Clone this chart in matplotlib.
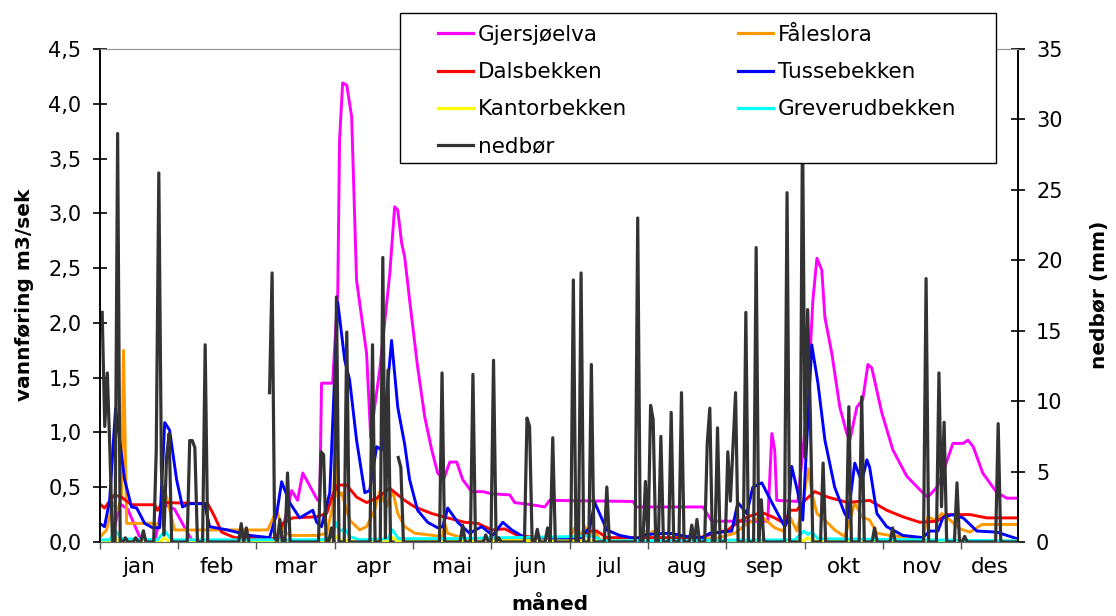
import numpy as np
import matplotlib
matplotlib.use("Agg")
from matplotlib import pyplot as plt
from matplotlib.patches import Rectangle
from matplotlib.lines import Line2D

plt.rcParams['font.family'] = ['DejaVu Sans']

# ---------------------------------------------------------------- data
months = ['jan', 'feb', 'mar', 'apr', 'mai', 'jun', 'jul', 'aug', 'sep', 'okt', 'nov', 'des']
month_len = 30.42
x_end = 356.7

# Gjersjøelva (m3/s)
gj_day = [0, 4.7, 7.8, 10.9, 15.5, 19.4, 21.4, 24.5, 29.1, 35.7, 38.9, 69.9, 74.6, 76.9, 78.9,
          84.7, 85.5, 86.2, 90.5, 92.5, 93.2, 94.4, 96.0, 97.9, 99.8, 103.7, 105.3, 106.8, 108.8,
          112.7, 114.6, 115.8, 117.3, 118.5, 120.4, 123.5, 126.3, 129.0, 131.3, 133.6, 136.0,
          138.7, 141.0, 144.5, 148.8, 152.3, 159.3, 161.2, 167.8, 172.9, 174.8, 207.1, 208.6,
          234.3, 237.8, 259.5, 261.1, 262.2, 263.0, 271.2, 275.1, 277.0, 278.6, 280.5, 281.7,
          284.4, 287.5, 290.2, 291.4, 294.1, 296.4, 298.4, 299.9, 303.8, 308.1, 313.5, 319.7,
          321.7, 325.2, 327.5, 331.4, 335.4, 337.3, 339.3, 343.0, 348.5, 352.4, 356.7]
gj_val = [0.0, 0.0, 0.35, 0.30, 0.05, 0.0, 0.0, 0.35, 0.30, 0.02, 0.0, 0.0, 0.47, 0.38, 0.63,
          0.38, 0.38, 1.45, 1.45, 2.27, 3.67, 4.19, 4.17, 3.88, 2.39, 1.72, 0.95, 1.23, 1.57,
          2.45, 3.06, 3.03, 2.73, 2.60, 2.21, 1.60, 1.14, 0.84, 0.63, 0.57, 0.73,
          0.73, 0.57, 0.46, 0.46, 0.44, 0.43, 0.36, 0.34, 0.32, 0.38, 0.37, 0.32,
          0.32, 0.19, 0.19, 0.99, 0.84, 0.38, 0.37, 1.30, 2.20, 2.59, 2.48, 2.05,
          1.72, 1.23, 0.99, 0.93, 1.23, 1.30, 1.62, 1.59, 1.18, 0.84, 0.60, 0.45,
          0.41, 0.50, 0.63, 0.90, 0.90, 0.93, 0.87, 0.63, 0.45, 0.40, 0.40]

# Fåleslora
fa_day = [0, 2.7, 5.1, 7.0, 8.5, 9.3, 10.5, 21.4, 23.3, 24.9, 26.4, 29.1, 65.3, 68.8, 71.1, 73.8,
          84.7, 88.2, 90.5, 91.7, 92.5, 94.0, 97.1, 101.0, 103.7, 106.8, 108.8, 111.5, 113.8,
          115.8, 118.5, 122.4, 133.3, 134.0, 135.2, 141.8, 178.7, 182.6, 184.5, 186.5, 188.5,
          190.4, 191.5, 194.3, 209.8, 211.7, 213.7, 214.8, 217.6, 238.9, 246.7, 251.7, 257.2,
          262.2, 265.3, 268.1, 270.8, 273.1, 275.1, 276.6, 278.6, 281.7, 285.5, 289.4, 292.2,
          293.3, 296.0, 299.1, 301.9, 306.9, 319.7, 321.7, 324.4, 327.1, 330.3, 334.2, 338.1,
          342.7, 356.7]
fa_val = [0.04, 0.11, 0.36, 0.29, 0.40, 1.75, 0.17, 0.17, 0.14, 0.50, 0.38, 0.11, 0.11, 0.29, 0.11, 0.06,
          0.06, 0.08, 0.32, 0.79, 0.41, 0.45, 0.20, 0.11, 0.14, 0.29, 0.46, 0.32, 0.47,
          0.26, 0.14, 0.08, 0.05, 0.18, 0.08, 0.03, 0.02, 0.03, 0.13, 0.05, 0.14,
          0.05, 0.13, 0.02, 0.02, 0.10, 0.05, 0.10, 0.02, 0.03, 0.08, 0.17, 0.23,
          0.13, 0.10, 0.23, 0.10, 0.32, 0.67, 0.45, 0.26, 0.20, 0.11, 0.05, 0.26,
          0.36, 0.23, 0.20, 0.08, 0.06, 0.03, 0.23, 0.20, 0.26, 0.20, 0.12, 0.09,
          0.16, 0.16]

# Dalsbekken
da_day = [0, 1.9, 5.8, 8.5, 12.4, 21.4, 22.5, 24.5, 42.0, 44.7, 47.4, 52.4, 68.4, 71.1, 75.0,
          84.3, 88.2, 90.5, 92.5, 96.0, 99.8, 103.7, 107.6, 112.7, 118.5, 122.4, 129.0, 135.2,
          141.8, 146.9, 152.3, 157.3, 162.4, 170.2, 186.5, 190.4, 193.1, 197.0, 233.1, 238.9,
          244.0, 247.9, 251.7, 257.2, 262.2, 266.1, 268.1, 270.8, 273.9, 277.8, 282.8, 290.6,
          294.5, 299.1, 305.7, 312.0, 318.6, 325.2, 329.1, 338.1, 344.6, 356.7]
da_val = [0.35, 0.31, 0.43, 0.41, 0.34, 0.34, 0.29, 0.36, 0.35, 0.23, 0.09, 0.04, 0.03, 0.17, 0.22,
          0.23, 0.26, 0.43, 0.52, 0.52, 0.41, 0.36, 0.40, 0.49, 0.38, 0.32, 0.26, 0.22,
          0.18, 0.17, 0.11, 0.12, 0.06, 0.04, 0.03, 0.10, 0.10, 0.04, 0.04, 0.08,
          0.11, 0.18, 0.23, 0.27, 0.22, 0.17, 0.29, 0.29, 0.38, 0.46, 0.41, 0.36,
          0.37, 0.38, 0.29, 0.23, 0.18, 0.19, 0.25, 0.25, 0.22, 0.22]

# Tussebekken
tu_day = [0, 1.9, 3.9, 6.2, 7.8, 9.7, 12.4, 14.4, 17.5, 20.6, 23.3, 25.3, 27.2, 29.9, 32.2, 35.0,
          40.8, 42.7, 49.7, 58.3, 66.0, 68.8, 70.7, 73.8, 77.7, 82.8, 84.3, 86.2, 89.4, 92.5,
          95.2, 97.1, 99.8, 103.0, 104.9, 107.6, 109.6, 113.4, 115.8, 118.5, 120.4, 123.5,
          127.4, 131.3, 133.3, 135.2, 139.1, 143.7, 148.4, 152.7, 156.6, 160.1, 165.1, 178.7,
          186.5, 190.4, 192.3, 197.0, 202.0, 208.6, 212.5, 221.4, 228.1, 234.3, 237.0, 245.5,
          247.9, 251.4, 253.7, 257.2, 261.1, 266.1, 267.3, 268.8, 271.2, 273.1, 276.6, 279.0,
          281.7, 285.5, 289.4, 290.6, 293.3, 296.0, 298.0, 299.1, 301.9, 305.7, 312.0, 319.7,
          322.5, 325.6, 327.5, 331.0, 335.4, 340.7, 348.5, 356.3]
tu_val = [0.17, 0.14, 0.38, 1.22, 0.93, 0.57, 0.32, 0.31, 0.17, 0.13, 0.13, 1.09, 1.02, 0.57, 0.32, 0.35,
          0.35, 0.14, 0.11, 0.06, 0.04, 0.26, 0.55, 0.36, 0.22, 0.29, 0.18, 0.14, 0.45, 2.19,
          1.66, 1.48, 0.93, 0.45, 0.47, 0.87, 0.84, 1.84, 1.23, 0.89, 0.57, 0.29,
          0.18, 0.13, 0.14, 0.31, 0.18, 0.08, 0.14, 0.06, 0.18, 0.11, 0.04, 0.03,
          0.04, 0.13, 0.36, 0.11, 0.06, 0.03, 0.07, 0.08, 0.05, 0.04, 0.08, 0.10,
          0.36, 0.26, 0.50, 0.54, 0.36, 0.14, 0.20, 0.69, 0.45, 0.20, 1.80, 1.45,
          0.93, 0.50, 0.26, 0.22, 0.72, 0.55, 0.75, 0.68, 0.26, 0.14, 0.06, 0.04,
          0.10, 0.10, 0.22, 0.25, 0.22, 0.10, 0.09, 0.03]

# Kantorbekken
ka_day = [0, 5.0, 6.2, 7.5, 24.0, 25.3, 26.5, 90.5, 92.0, 94.0, 112.5, 114.0, 115.5, 273.5, 275.0, 277.0, 356.7]
ka_val = [0.01, 0.01, 0.04, 0.01, 0.01, 0.04, 0.01, 0.01, 0.05, 0.01, 0.01, 0.04, 0.01, 0.01, 0.04, 0.01, 0.01]

# Greverudbekken
gr_day = [0, 3.9, 6.2, 8.5, 22.5, 25.3, 28.0, 86.2, 90.5, 91.7, 93.2, 95.2, 97.1, 101.0, 112.0,
          113.8, 116.0, 134.0, 184.5, 188.0, 192.3, 195.0, 270.0, 273.5, 275.1, 276.6, 279.0, 356.7]
gr_val = [0.02, 0.02, 0.10, 0.03, 0.02, 0.10, 0.02, 0.02, 0.05, 0.18, 0.10, 0.12, 0.05, 0.02, 0.03,
          0.11, 0.03, 0.03, 0.05, 0.06, 0.05, 0.01, 0.02, 0.10, 0.07, 0.09, 0.03, 0.01]

# nedbør (mm per day), days not listed are 0
rain_day = [1, 2, 3, 4, 7, 10, 14, 17, 22, 23, 24, 25, 26, 27, 28, 35, 36, 37, 41, 55, 57,
            66, 67, 68, 70, 73, 86, 87, 90, 92, 96, 106, 110, 111, 112, 116, 117, 133, 141, 145,
            150, 153, 155, 166, 167, 170, 174, 176, 184, 187, 191, 197, 209, 212, 214, 215, 218,
            222, 226, 230, 232, 236, 237, 240, 244, 245, 246, 247, 251, 255, 257, 267, 273, 274,
            275, 276, 281, 291, 296, 301, 308, 321, 326, 327, 328, 333, 336, 349]
rain_mm = [16.3, 8.2, 12.0, 6.5, 29.0, 0.3, 0.3, 0.8, 6.5, 26.2, 5.3, 0.5, 6.0, 7.7, 0.0, 7.2, 7.2, 6.7, 14.0, 1.3, 1.0,
           10.6, 19.1, 0.3, 1.6, 4.9, 6.4, 6.2, 1.0, 17.4, 14.9, 14.0, 20.2, 0.3, 12.2, 6.0, 5.3, 12.0, 1.2, 11.9,
           0.5, 12.9, 0.3, 8.8, 8.2, 0.9, 1.0, 7.4, 18.6, 19.1, 12.6, 3.9, 23.0, 4.3, 9.7, 8.7, 7.5,
           9.2, 10.6, 1.2, 1.6, 7.0, 9.5, 8.1, 6.4, 2.9, 6.8, 10.6, 16.3, 20.9, 3.0, 24.8, 30.0, 6.0,
           16.5, 9.4, 5.6, 9.6, 10.3, 1.0, 1.0, 18.7, 12.0, 2.5, 8.5, 4.2, 0.4, 8.4]
rain_missing = [0, 59, 60, 61, 62, 63, 64, 65, 115]

labels = ['Gjersjøelva', 'Fåleslora', 'Dalsbekken', 'Tussebekken', 'Kantorbekken', 'Greverudbekken', 'nedbør']
colors = ['#FF00FF', '#FF9900', '#FF0000', '#0000FF', '#FFFF00', '#00FFFF', '#333333']

# daily rain series
days = np.arange(0, 357)
rain = np.zeros(len(days))
rain[rain_day] = rain_mm
rain[rain_missing] = np.nan

# ---------------------------------------------------------------- figure
fig = plt.figure(figsize=(11.16, 6.16), dpi=100)
ax = fig.add_axes([99.6 / 1116, 74 / 616, 918.4 / 1116, 493 / 616])
ax2 = ax.twinx()

flows = [(gj_day, gj_val), (fa_day, fa_val), (da_day, da_val), (tu_day, tu_val),
         (ka_day, ka_val), (gr_day, gr_val)]
for (d, v), c in zip(flows, colors[:6]):
    ax.plot(d, v, color=c, lw=2.1, solid_joinstyle='round')
ax2.plot(days, rain, color=colors[6], lw=2.3, solid_joinstyle='round')

ax.set_xlim(0, x_end)
ax.set_ylim(0, 4.5)
ax2.set_ylim(0, 35)

yt = np.arange(0, 4.51, 0.5)
ax.set_yticks(yt)
ax.set_yticklabels([f'{v:.1f}'.replace('.', ',') for v in yt])
ax2.set_yticks(np.arange(0, 36, 5))

bounds = np.arange(0, 12) * month_len
centers = [(b + min(b + month_len, x_end)) / 2 for b in bounds]
ax.set_xticks(bounds)
ax.set_xticklabels([])
ax.set_xticks(centers, minor=True)
ax.set_xticklabels(months, minor=True)

ax.tick_params(axis='y', direction='inout', length=10, width=1.2, labelsize=15, pad=8)
ax2.tick_params(axis='y', direction='inout', length=10, width=1.2, labelsize=15, pad=8)
ax.tick_params(axis='x', which='major', direction='out', length=5, width=1.0, color='#555555')
ax.tick_params(axis='x', which='minor', length=0, labelsize=15.5, pad=11)

for a in (ax, ax2):
    a.spines['top'].set_color('#9a9a9a')
    a.spines['bottom'].set_color('#666666')
    a.spines['left'].set_color('black')
    a.spines['right'].set_color('black')
    a.spines['left'].set_linewidth(1.2)
    a.spines['right'].set_linewidth(1.2)

fig.text(25 / 1116, 1 - 295 / 616, 'vannføring m3/sek', rotation=90, ha='center', va='center',
         fontsize=14.5, fontweight='bold')
fig.text(1100 / 1116, 1 - 295 / 616, 'nedbør (mm)', rotation=90, ha='center', va='center',
         fontsize=14.5, fontweight='bold')
fig.text(550 / 1116, 1 - 605 / 616, 'måned', ha='center', va='center', fontsize=14.5, fontweight='bold')

# legend box and entries (row-wise order, two columns)
box = Rectangle((400 / 1116, 1 - 163 / 616), 596 / 1116, 150 / 616, transform=fig.transFigure,
                facecolor='white', edgecolor='black', lw=1.0, zorder=5)
fig.add_artist(box)
handles = [Line2D([], [], color=c, lw=2.3) for c in colors]
order = [0, 2, 4, 6, 1, 3, 5]
leg = fig.legend([handles[i] for i in order], [labels[i] for i in order], ncol=2,
                 loc='upper left', bbox_to_anchor=(438 / 1116, 1 - 25 / 616), frameon=False,
                 borderpad=0, borderaxespad=0, fontsize=15.5, handlelength=1.63,
                 handletextpad=0.23, columnspacing=5.15, labelspacing=0.8)
leg.set_zorder(6)

fig.savefig('out.png', dpi=100)
